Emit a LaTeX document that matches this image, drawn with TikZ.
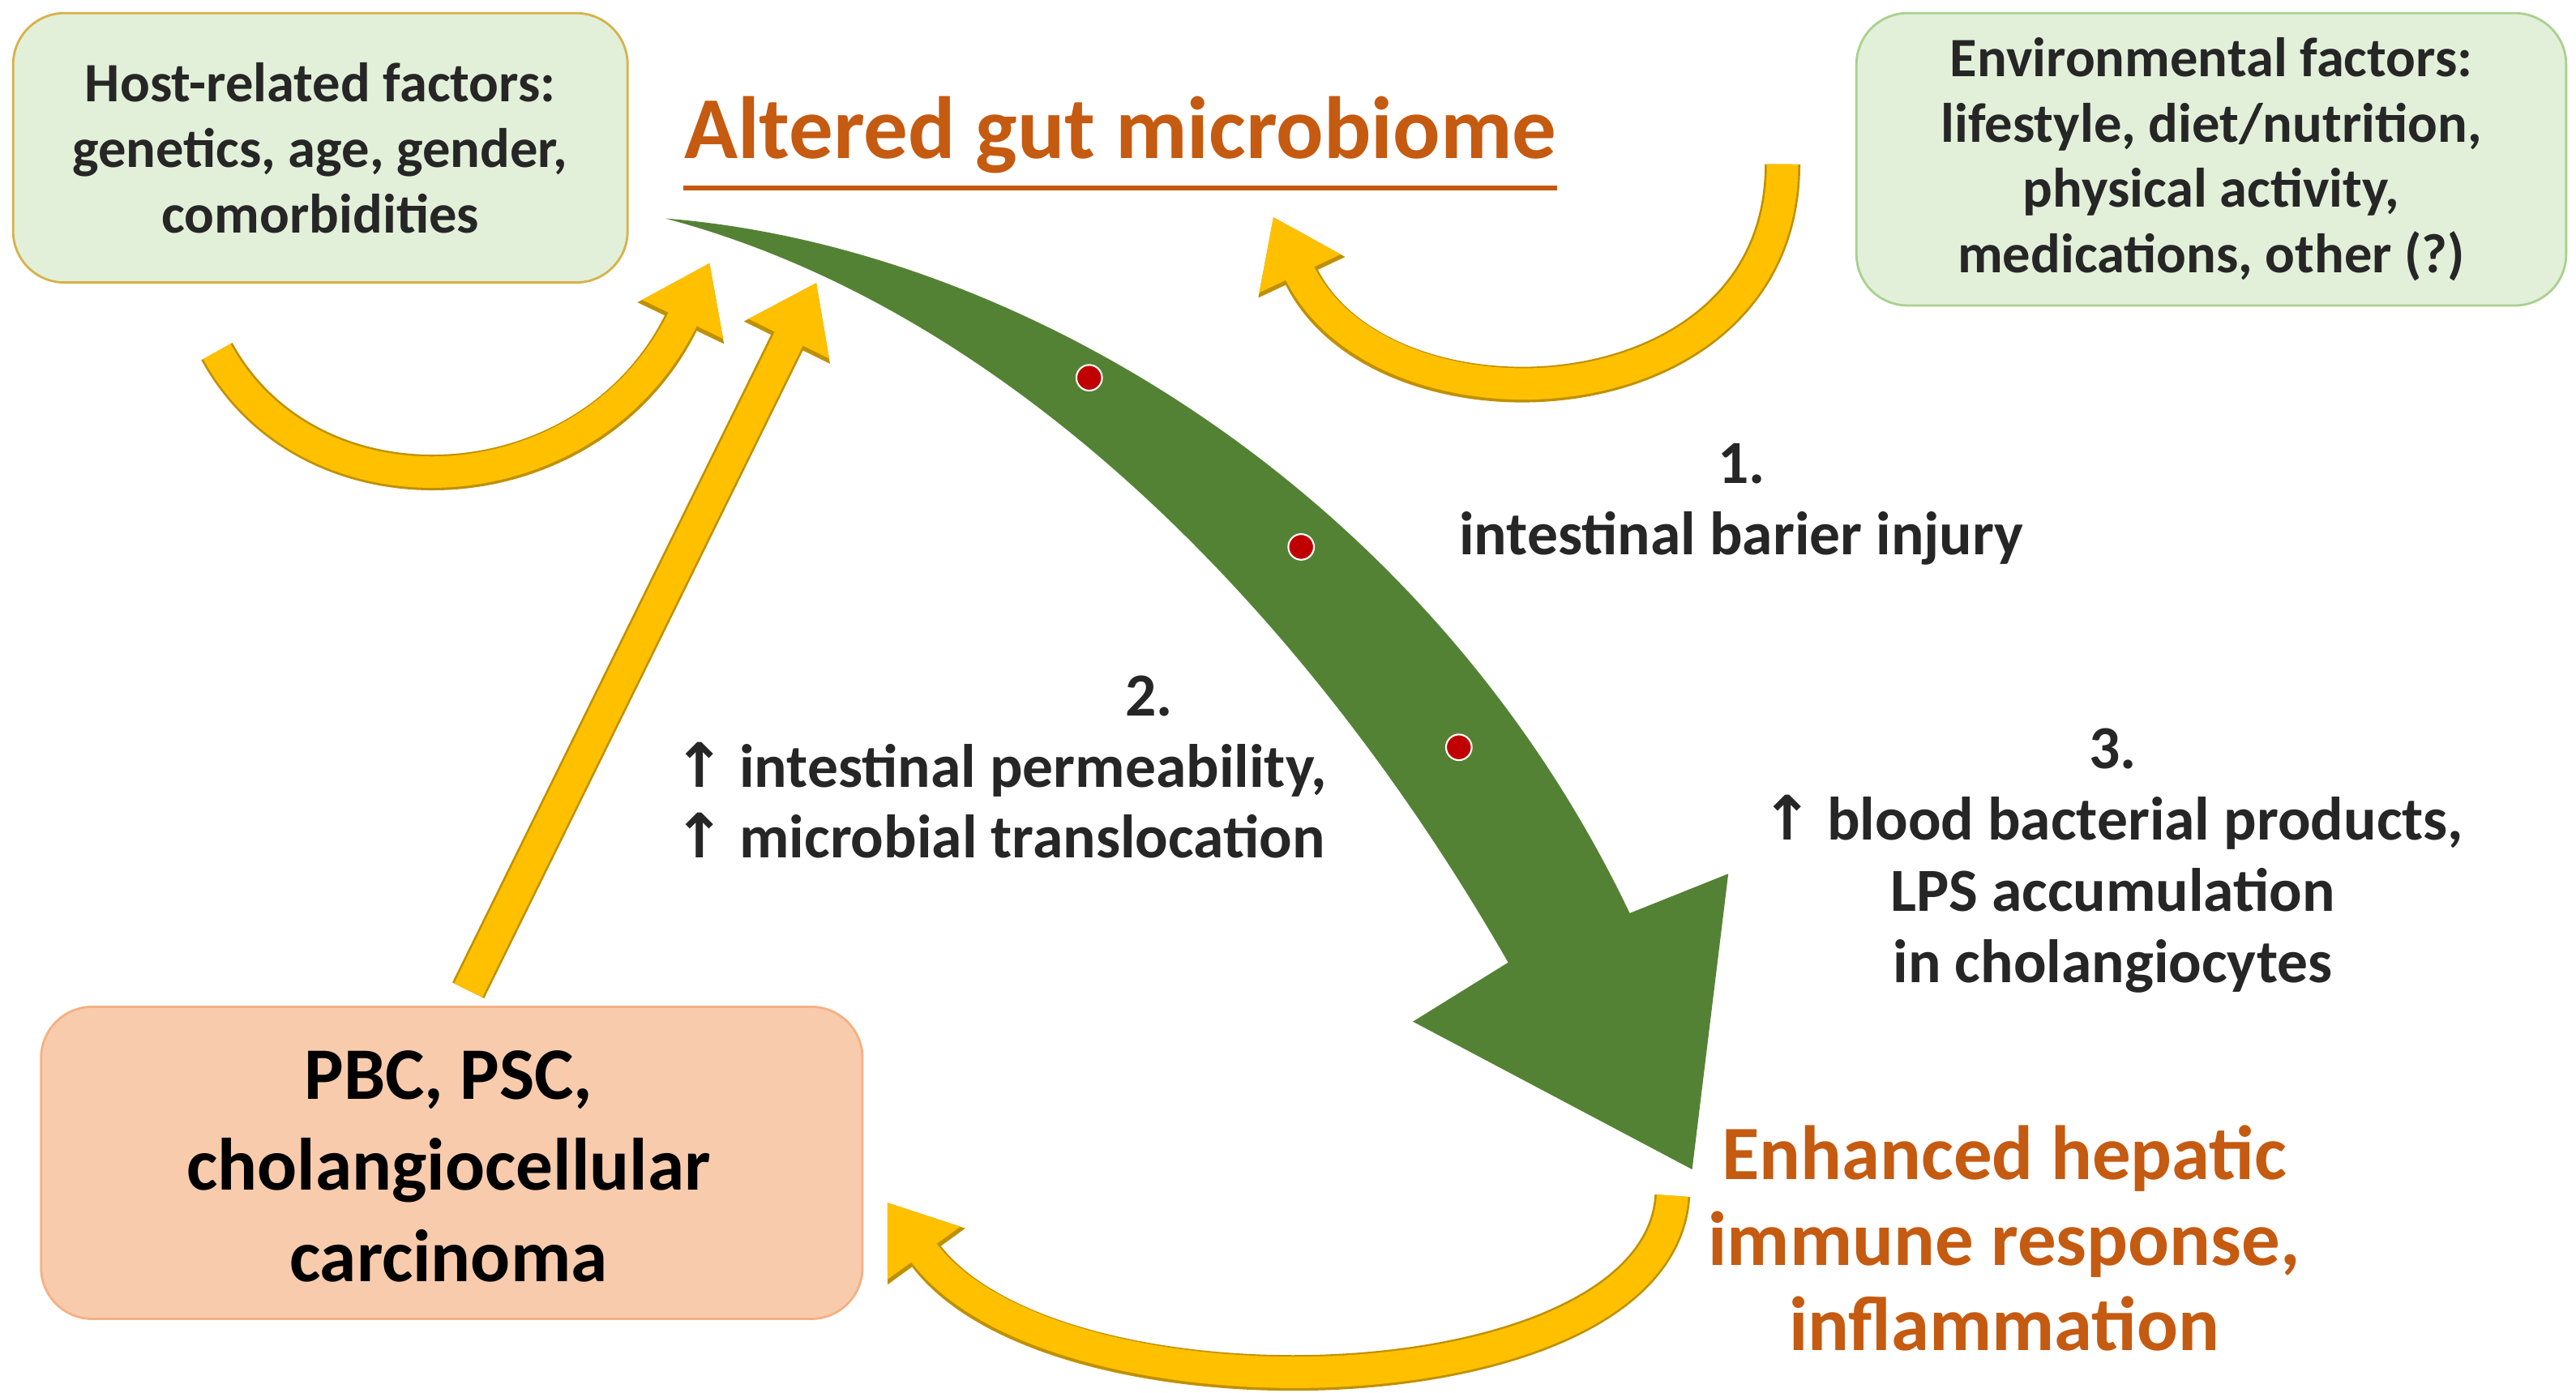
\documentclass[tikz,border=0pt]{standalone}
\usepackage{fontspec}
\setmainfont{Carlito}
\newfontfamily\arr{DejaVu Sans}
\usetikzlibrary{arrows.meta}
\definecolor{boxgreen}{HTML}{E2F0D9}
\definecolor{boxgreenb}{HTML}{A9D18E}
\definecolor{boxgold}{HTML}{D6B24A}
\definecolor{boxorange}{HTML}{F8CBAD}
\definecolor{boxorangeb}{HTML}{F4B183}
\definecolor{txtorange}{HTML}{C55A11}
\definecolor{agreen}{HTML}{548235}
\definecolor{gold}{HTML}{FFC000}
\definecolor{dgold}{HTML}{BF9000}
\definecolor{dot}{HTML}{C00000}
\newcommand{\up}{{\arr\bfseries ↑}}
\begin{document}
\begin{tikzpicture}[x=0.02027cm,y=-0.02027cm,
  box/.style={rounded corners=18pt,line width=0.8pt},
  txt/.style={font=\bfseries\fontsize{19}{23}\selectfont,align=center,text=black!85},
  mid/.style={font=\bfseries\fontsize{21.5}{25}\selectfont,align=center,text=black!85},
  garrow/.style={line width=11pt,draw=gold,-{Triangle[width=30pt,length=22pt]}},
  garrowb/.style={line width=12.5pt,draw=dgold,-{Triangle[width=32pt,length=23.5pt]}},
  rdot/.style={circle,fill=dot,draw=white,line width=0.6pt,inner sep=0pt,minimum size=9pt}]
\useasboundingbox (0,0) rectangle (1568,848);
% boxes
\draw[box,fill=boxgreen,draw=boxgold] (8,8) rectangle (382,172);
\node[txt,font=\bfseries\fontsize{19.5}{23}\selectfont] (host) at (195,90) {Host-related factors:\\genetics, age, gender,\\comorbidities};
\draw[box,fill=boxgreen,draw=boxgreenb] (1130,8) rectangle (1562,186);
\node[txt,font=\bfseries\fontsize{19.5}{23}\selectfont] (env) at (1346,97) {Environmental factors:\\lifestyle, diet/nutrition,\\physical activity,\\medications, other (?)};
\draw[box,fill=boxorange,draw=boxorangeb] (25,613) rectangle (525,803);
\node[font=\bfseries\fontsize{26}{32}\selectfont,align=center] (pbc) at (273,710) {PBC, PSC,\\cholangiocellular\\carcinoma};
% title
\node[font=\bfseries\fontsize{31}{36}\selectfont,text=txtorange,inner sep=0pt] (title) at (682,82) {Altered gut microbiome};
\draw[txtorange,line width=1.6pt] ([yshift=-5pt]title.south west) -- ([yshift=-5pt]title.south east);
\node[font=\bfseries\fontsize{27}{30}\selectfont,text=txtorange,align=center] (hep) at (1220,754) {Enhanced hepatic\\immune response,\\inflammation};
% green arrow
\fill[agreen] (405,133) .. controls (620,150) and (870,300) .. (992,556)
  -- (1052,532) -- (1030,712) -- (860,622) -- (918,586)
  .. controls (800,380) and (620,190) .. (405,133) -- cycle;
\node[rdot] (d1) at (663,230) {};
\node[rdot] (d2) at (792,333) {};
\node[rdot] (d3) at (888,455) {};
% yellow arrows
\coordinate (h0) at (132,214); \coordinate (h1) at (432,160);
\draw[garrowb] (h0) .. controls (190,320) and (360,310) .. (h1);
\draw[garrow] (h0) .. controls (190,320) and (360,310) .. (h1);
\coordinate (s0) at (285,603); \coordinate (s1) at (497,172);
\draw[garrowb] (s0) -- (s1);
\draw[garrow] (s0) -- (s1);
\coordinate (e0) at (1085,100); \coordinate (e1) at (775,132);
\draw[garrowb] (e0) .. controls (1085,260) and (840,270) .. (e1);
\draw[garrow] (e0) .. controls (1085,260) and (840,270) .. (e1);
\coordinate (b0) at (1018,728); \coordinate (b1) at (540,732);
\draw[garrowb] (b0) .. controls (1010,860) and (640,870) .. (b1);
\draw[garrow] (b0) .. controls (1010,860) and (640,870) .. (b1);
% labels
\node[mid] (l1) at (1060,307) {1.\\intestinal barier injury};
\node[mid,align=left] (l2) at (609,467) {\hphantom{\up\ intestinal perm}2.\\\up\ intestinal permeability,\\\up\ microbial translocation};
\node[mid] (l3) at (1286,524) {3.\\\up\ blood bacterial products,\\LPS accumulation\\in cholangiocytes};
\end{tikzpicture}
\end{document}
